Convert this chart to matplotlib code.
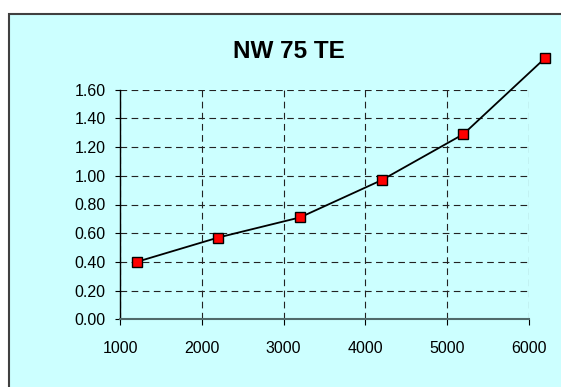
import matplotlib
matplotlib.use("Agg")
import matplotlib.pyplot as plt
from matplotlib.patches import Rectangle

plt.rcParams["font.family"] = ["Liberation Sans", "DejaVu Sans"]

# datos
x_vals = [1200, 2200, 3200, 4200, 5200, 6200]
y_vals = [0.40, 0.57, 0.71, 0.97, 1.29, 1.82]
x_ticks = [1000, 2000, 3000, 4000, 5000, 6000]
y_ticks = [0.0, 0.2, 0.4, 0.6, 0.8, 1.0, 1.2, 1.4, 1.6]
title = "NW 75 TE"

W, H = 561, 387
fig = plt.figure(figsize=(W / 100, H / 100), dpi=100, facecolor="white")

# marco de fondo cian (sólo bordes superior e izquierdo visibles)
fig.patches.append(Rectangle((8.5 / W, -0.05), 1.1, 1 - 14 / H + 0.05,
                             transform=fig.transFigure, facecolor="#CCFFFF",
                             edgecolor="#404040", linewidth=1.5, zorder=-10))

ax = fig.add_axes([120.3 / W, 1 - 319.3 / H, (528.7 - 120.3) / W, (319.3 - 89.7) / H])
ax.set_facecolor("none")
ax.set_xlim(1000, 6000)
ax.set_ylim(0, 1.6)
ax.set_xticks(x_ticks)
ax.set_yticks(y_ticks)
ax.set_yticklabels([f"{v:.2f}" for v in y_ticks])

ax.grid(True, color="#222222", linestyle=(0, (6, 4)), linewidth=0.8)
ax.set_axisbelow(True)
for s in ("top", "right"):
    ax.spines[s].set_visible(False)
ax.spines["left"].set_color("black")
ax.spines["bottom"].set_color("#4f6a6a")
ax.spines["left"].set_linewidth(1.0)
ax.spines["bottom"].set_linewidth(1.5)

ax.tick_params(axis="x", direction="out", length=4.3, width=0.8, pad=11,
               labelsize=11.5, colors="black")
ax.tick_params(axis="y", direction="out", length=3.6, width=0.8, pad=7,
               labelsize=11.5, colors="black")

ax.plot(x_vals, y_vals, color="black", linewidth=1.3, marker="s",
        markersize=6.5, markerfacecolor="red", markeredgecolor="black",
        markeredgewidth=1.0, clip_on=False, zorder=5)

fig.text(289 / W, 1 - 51 / H, title, ha="center", va="center",
         fontsize=17.5, fontweight="bold")

fig.savefig("out.png", dpi=100, facecolor="white")
